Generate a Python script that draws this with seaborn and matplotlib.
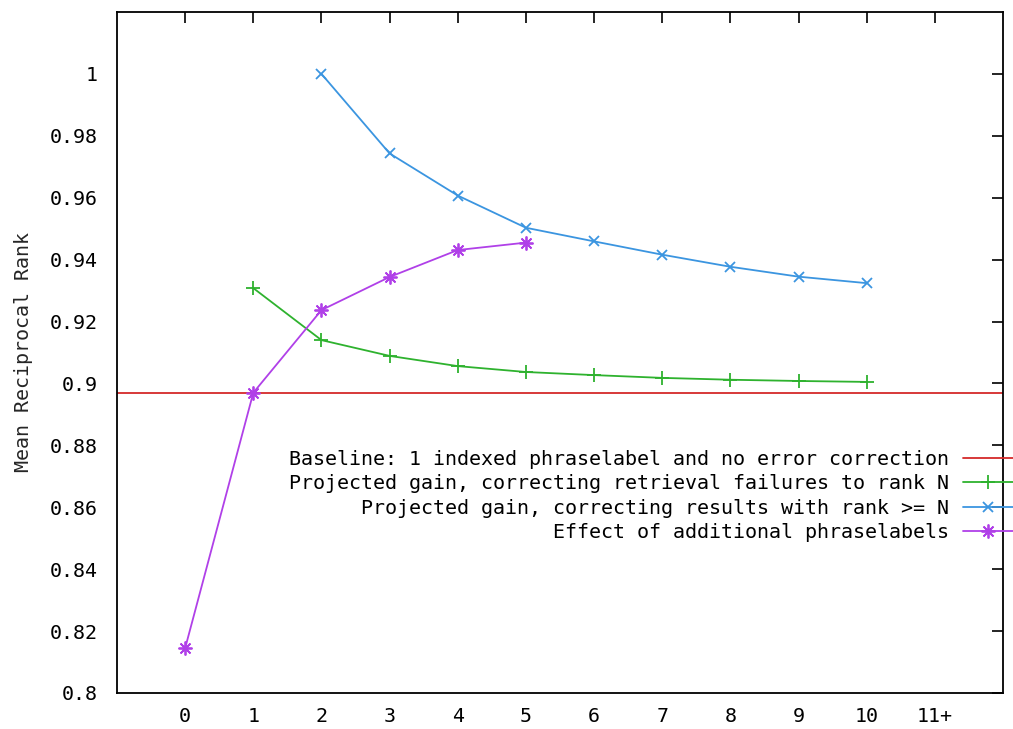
import matplotlib
matplotlib.use("Agg")
import matplotlib.pyplot as plt
import seaborn as sns
import pandas as pd

# ---- data ----
x_ticks = list(range(0, 12))
x_tick_labels = ["0", "1", "2", "3", "4", "5", "6", "7", "8", "9", "10", "11+"]

baseline_value = 0.897

green_x = [1, 2, 3, 4, 5, 6, 7, 8, 9, 10]
green_y = [0.9308, 0.9140, 0.9089, 0.9056, 0.9037, 0.9027, 0.9018, 0.9012, 0.9008, 0.9005]

blue_x = [2, 3, 4, 5, 6, 7, 8, 9, 10]
blue_y = [1.0000, 0.9743, 0.9607, 0.9503, 0.9459, 0.9416, 0.9377, 0.9345, 0.9324]

purple_x = [0, 1, 2, 3, 4, 5]
purple_y = [0.8145, 0.8970, 0.9237, 0.9344, 0.9431, 0.9455]

labels = [
    "Baseline: 1 indexed phraselabel and no error correction",
    "Projected gain, correcting retrieval failures to rank N",
    "Projected gain, correcting results with rank >= N",
    "Effect of additional phraselabels",
]
colors = ["#d42a2a", "#2eb22e", "#3b95e0", "#b040e8"]

sns.set_theme(style="white")
plt.rcParams["font.family"] = ["DejaVu Sans Mono", "DejaVu Sans"]

FS = 14.4
W, H = 1013, 729
fig = plt.figure(figsize=(W / 100, H / 100), dpi=100)
ax = fig.add_axes([117 / W, 1 - 693 / H, (1003 - 117) / W, (693 - 12) / H])

ax.axhline(baseline_value, color=colors[0], lw=1.3, label=labels[0])

df_g = pd.DataFrame({"x": green_x, "y": green_y})
df_b = pd.DataFrame({"x": blue_x, "y": blue_y})
df_p = pd.DataFrame({"x": purple_x, "y": purple_y})

sns.lineplot(data=df_g, x="x", y="y", ax=ax, color=colors[1], lw=1.3,
             marker="+", markersize=9.5, markeredgewidth=1.3,
             markeredgecolor=colors[1], label=labels[1])
sns.lineplot(data=df_b, x="x", y="y", ax=ax, color=colors[2], lw=1.3,
             marker="x", markersize=7, markeredgewidth=1.3,
             markeredgecolor=colors[2], label=labels[2])
sns.lineplot(data=df_p, x="x", y="y", ax=ax, color=colors[3], lw=1.3,
             marker=(8, 2, 0), markersize=10, markeredgewidth=1.3,
             markeredgecolor=colors[3], label=labels[3])

ax.set_xlim(-1, 12)
ax.set_ylim(0.8, 1.02)
ax.set_xticks(x_ticks)
ax.set_xticklabels(x_tick_labels)
ax.set_yticks([0.8 + 0.02 * i for i in range(11)])
ax.set_yticklabels(["0.8", "0.82", "0.84", "0.86", "0.88", "0.9", "0.92",
                    "0.94", "0.96", "0.98", "1"])
ax.set_xlabel("")
ax.set_ylabel("Mean Reciprocal Rank", fontsize=FS, labelpad=12)

for s in ax.spines.values():
    s.set_color("black")
    s.set_linewidth(1.3)
ax.tick_params(direction="in", length=8, width=1.2, top=True, right=True,
               labelsize=FS, colors="black")
ax.tick_params(axis="y", pad=14)
ax.tick_params(axis="x", pad=10)

handles, labs = ax.get_legend_handles_labels()
leg = ax.legend(handles, labs, loc="upper right",
                bbox_to_anchor=(1.0, 1 - 450 / H), bbox_transform=fig.transFigure,
                frameon=False, markerfirst=False, fontsize=FS,
                handlelength=2.5, handletextpad=0.7, borderpad=0, borderaxespad=0,
                labelspacing=0.27)
for t in leg.get_texts():
    t.set_color("black")

fig.savefig("out.png", dpi=100)
